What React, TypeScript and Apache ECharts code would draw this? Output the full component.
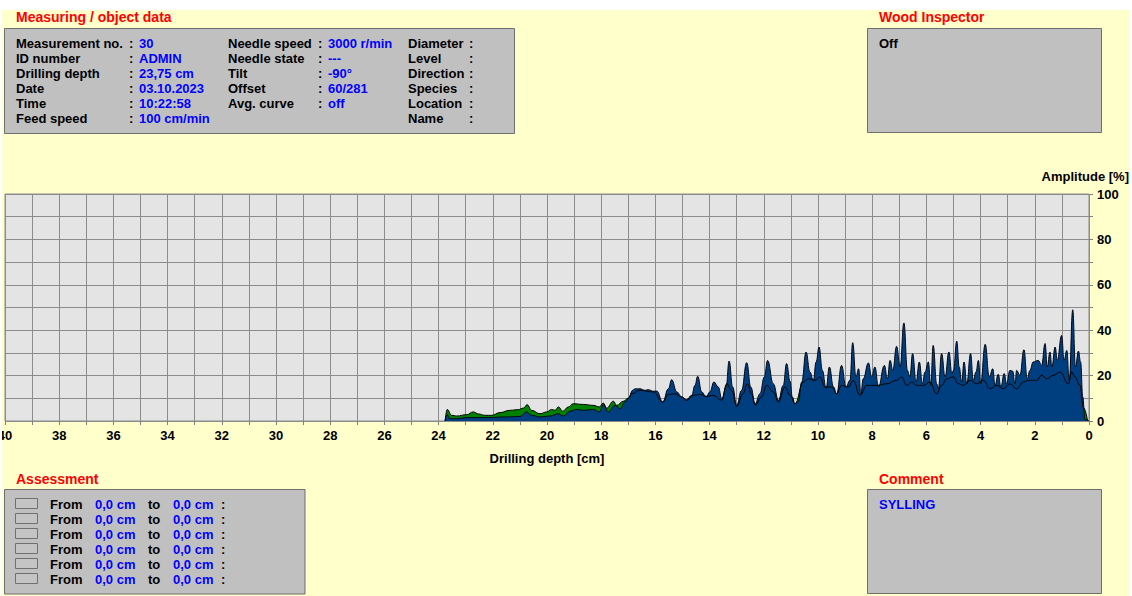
import React, { useEffect, useRef } from 'react';
import * as echarts from 'echarts';

// ---- Drilling resistance (blue) : depth [cm] / amplitude [%]
const blueDepth = [
  23.76, 23.73, 23.68, 23.58, 23.33, 22.96, 22.29, 21.49, 21.0, 20.75, 20.57, 20.26, 19.89, 19.58, 19.4, 19.15,
  18.9, 18.66, 18.29, 18.07, 17.92, 17.74, 17.49, 17.31, 17.12, 17.0, 16.84, 16.75, 16.57, 16.38, 16.26, 16.08,
  15.95, 15.73, 15.52, 15.4, 15.21, 15.03, 14.85, 14.66, 14.54, 14.44, 14.29, 14.13, 13.99, 13.84, 13.68, 13.55,
  13.39, 13.28, 13.15, 13.0, 12.82, 12.63, 12.48, 12.32, 12.14, 11.98, 11.86, 11.65, 11.46, 11.28, 11.16, 11.03,
  10.95, 10.85, 10.73, 10.6, 10.44, 10.3, 10.17, 10.07, 9.96, 9.84, 9.7, 9.58, 9.43, 9.31, 9.13, 8.97,
  8.82, 8.72, 8.6, 8.5, 8.42, 8.33, 8.14, 8.02, 7.9, 7.77, 7.55, 7.44, 7.34, 7.24, 7.1, 6.97,
  6.83, 6.7, 6.61, 6.51, 6.38, 6.26, 6.15, 6.05, 5.93, 5.84, 5.75, 5.62, 5.56, 5.44, 5.31, 5.17,
  5.06, 5.0, 4.88, 4.79, 4.7, 4.61, 4.51, 4.37, 4.27, 4.17, 4.08, 4.0, 3.83, 3.68, 3.55, 3.47,
  3.35, 3.25, 3.13, 3.04, 2.92, 2.82, 2.73, 2.67, 2.55, 2.4, 2.28, 2.18, 2.06, 1.87, 1.75, 1.62,
  1.54, 1.44, 1.37, 1.25, 1.17, 1.01, 0.92, 0.82, 0.73, 0.6, 0.5, 0.39, 0.31, 0.23, 0.15, 0.0,
];
const blueAmp = [
  0, 1.8, 2.8, 1.0, 1.0, 1.5, 1.5, 1.8, 2.0, 4.0, 2.5, 1.8, 2.2, 3.2, 2.2, 4.3,
  5.1, 4.7, 5.1, 4.0, 7.2, 4.0, 6.9, 5.4, 8.4, 9.8, 13.5, 14.2, 14.2, 13.5, 13.8, 13.1,
  13.2, 8.4, 14.2, 18.2, 12.8, 10.6, 9.4, 11.3, 15.7, 19.7, 12.8, 10.6, 12.8, 17.2, 15.0, 9.8,
  15.0, 26.4, 15.0, 6.9, 13.5, 25.7, 15.0, 7.6, 12.0, 19.4, 26.7, 16.4, 9.1, 15.7, 25.3, 17.5,
  10.6, 7.6, 8.4, 17.2, 30.4, 21.6, 17.9, 26.0, 32.6, 22.3, 14.4, 23.8, 15.0, 12.0, 24.5, 15.0,
  17.9, 34.5, 19.4, 23.0, 12.0, 18.6, 25.6, 19.4, 23.8, 15.0, 24.5, 18.6, 26.7, 22.3, 32.9, 23.8,
  43.2, 22.3, 19.4, 29.7, 17.2, 26.0, 16.4, 21.6, 26.0, 15.7, 33.3, 16.4, 14.2, 29.7, 19.4, 30.4,
  20.9, 22.3, 35.2, 23.8, 17.2, 26.0, 16.4, 29.7, 17.9, 21.6, 26.7, 16.4, 33.8, 19.4, 23.0, 15.7,
  20.6, 15.0, 20.9, 16.4, 22.3, 22.0, 16.4, 22.3, 20.1, 31.4, 18.6, 22.3, 26.0, 26.7, 24.5, 34.1,
  23.8, 30.4, 23.8, 32.6, 26.7, 37.7, 26.7, 31.1, 17.9, 49.0, 23.8, 30.8, 26.0, 10.6, 0.6, 0,
];

// ---- Feed (green) : depth [cm] / amplitude [%]
const greenDepth = [
  23.76, 23.68, 23.52, 23.33, 22.96, 22.72, 22.53, 22.29, 22.04, 21.73, 21.37, 21.06, 20.87, 20.73, 20.57, 20.26,
  20.01, 19.83, 19.7, 19.58, 19.42, 19.21, 19.03, 18.66, 18.29, 18.07, 17.92, 17.8, 17.55, 17.43, 17.18, 17.0,
  16.87, 16.57, 16.08, 15.73, 15.52, 15.28, 15.03, 14.85, 14.6, 14.35, 14.11, 13.86, 13.55, 13.37, 13.19, 13.0,
  12.76, 12.61, 12.45, 12.32, 12.08, 11.89, 11.65, 11.46, 11.22, 11.03, 10.85, 10.54, 10.36, 10.11, 9.93, 9.74,
  9.49, 9.31, 9.13, 8.88, 8.7, 8.45, 8.2, 7.83, 7.47, 7.1, 6.91, 6.73, 6.54, 6.36, 6.11, 5.87,
  5.62, 5.44, 5.25, 5.01, 4.82, 4.64, 4.39, 4.14, 3.9, 3.65, 3.41, 3.16, 2.92, 2.67, 2.42, 2.24,
  1.93, 1.75, 1.56, 1.32, 1.07, 0.76, 0.64, 0.52, 0.33, 0.21, 0.05,
];
const greenAmp = [
  0, 5.1, 2.5, 2.2, 2.8, 4.0, 3.1, 2.5, 2.5, 3.7, 4.7, 5.0, 5.7, 7.2, 4.7, 3.2,
  4.0, 5.1, 4.7, 6.2, 4.3, 6.2, 7.6, 7.3, 6.9, 6.2, 7.9, 5.7, 8.7, 6.9, 8.7, 10.1,
  12.0, 13.5, 12.8, 8.4, 11.7, 12.0, 10.6, 9.1, 11.3, 11.7, 10.9, 11.3, 9.1, 16.4, 13.5, 6.5,
  12.0, 16.4, 12.0, 6.9, 10.6, 15.7, 12.8, 8.4, 15.0, 11.3, 7.6, 17.2, 18.6, 17.9, 19.4, 15.0,
  15.0, 12.0, 15.7, 15.0, 17.9, 11.3, 15.7, 15.7, 16.4, 17.9, 19.4, 15.7, 17.2, 15.7, 15.7, 17.2,
  12.0, 15.7, 18.6, 19.4, 16.4, 15.7, 17.9, 16.4, 17.9, 14.2, 15.7, 14.2, 16.4, 14.2, 17.2, 17.9,
  17.9, 20.1, 18.6, 20.1, 21.6, 16.4, 21.6, 19.4, 15.7, 6.0, 0,
];

// ---- Axis settings / texts
const depthMin = 0;
const depthMax = 40;
const ampMin = 0;
const ampMax = 100;

const infoLabels1 = ['Measurement no.', 'ID number', 'Drilling depth', 'Date', 'Time', 'Feed speed'];
const infoValues1 = ['30', 'ADMIN', '23,75 cm', '03.10.2023', '10:22:58', '100 cm/min'];
const infoLabels2 = ['Needle speed', 'Needle state', 'Tilt', 'Offset', 'Avg. curve'];
const infoValues2 = ['3000 r/min', '---', '-90°', '60/281', 'off'];
const infoLabels3 = ['Diameter', 'Level', 'Direction', 'Species', 'Location', 'Name'];
const assessFrom = ['0,0 cm', '0,0 cm', '0,0 cm', '0,0 cm', '0,0 cm', '0,0 cm'];
const assessTo = ['0,0 cm', '0,0 cm', '0,0 cm', '0,0 cm', '0,0 cm', '0,0 cm'];

const FONT = '"Liberation Sans", Arial, Helvetica, sans-serif';
const RED = '#FF0000';
const BLUE = '#0000FF';
const BOXFILL = '#C0C0C0';
const BOXSTROKE = '#6E6E6E';
const SMOOTH = 0.45;

function txt(text: string, x: number, y: number, color = '#000', size = 13, align = 'left') {
  return {
    type: 'text',
    x,
    y,
    z: 60,
    silent: true,
    style: {
      text,
      fill: color,
      font: `bold ${size}px ${FONT}`,
      textAlign: align,
      textVerticalAlign: 'middle',
      align,
      verticalAlign: 'middle',
    },
  };
}

function box(x: number, y: number, w: number, h: number) {
  return {
    type: 'rect',
    z: 40,
    silent: true,
    shape: { x, y, width: w, height: h },
    style: { fill: BOXFILL, stroke: BOXSTROKE, lineWidth: 1 },
  };
}

function buildGraphics() {
  const g: any[] = [];
  // white page margins
  g.push({ type: 'rect', z: 100, silent: true, shape: { x: 0, y: 0, width: 1132, height: 10 }, style: { fill: '#FFFFFF' } });
  g.push({ type: 'rect', z: 100, silent: true, shape: { x: 0, y: 0, width: 2, height: 596 }, style: { fill: '#FFFFFF' } });
  g.push({ type: 'rect', z: 100, silent: true, shape: { x: 1130, y: 0, width: 2, height: 596 }, style: { fill: '#FFFFFF' } });

  // Measuring / object data
  g.push(txt('Measuring / object data', 16, 16.5, RED, 14));
  g.push(box(4.5, 28.5, 510, 105));
  infoLabels1.forEach((l, i) => {
    const y = 43.5 + i * 14.9;
    g.push(txt(l, 16, y));
    g.push(txt(':', 129, y));
    g.push(txt(infoValues1[i], 139, y, BLUE));
  });
  infoLabels2.forEach((l, i) => {
    const y = 43.5 + i * 14.9;
    g.push(txt(l, 228, y));
    g.push(txt(':', 318, y));
    g.push(txt(infoValues2[i], 328, y, BLUE));
  });
  infoLabels3.forEach((l, i) => {
    const y = 43.5 + i * 14.9;
    g.push(txt(l, 408, y));
    g.push(txt(':', 469, y));
  });

  // Wood Inspector
  g.push(txt('Wood Inspector', 879, 16.5, RED, 14));
  g.push(box(867.5, 28.5, 234, 104));
  g.push(txt('Off', 879, 43));

  // axis titles
  g.push(txt('Amplitude [%]', 1129, 176, '#000', 13, 'right'));
  g.push(txt('Drilling depth [cm]', 547, 458, '#000', 13, 'center'));

  // Assessment
  g.push(txt('Assessment', 16, 479, RED, 14));
  g.push(box(4.5, 489.5, 300.5, 104.5));
  assessFrom.forEach((v, i) => {
    const y = 504.3 + i * 14.95;
    g.push({
      type: 'rect', z: 50, silent: true,
      shape: { x: 15.5, y: Math.round(y) - 5.5, width: 22, height: 10 },
      style: { fill: '#C4C4C4', stroke: '#707070', lineWidth: 1 },
    });
    g.push(txt('From', 50, y));
    g.push(txt(v, 95, y, BLUE));
    g.push(txt('to', 148, y));
    g.push(txt(assessTo[i], 173, y, BLUE));
    g.push(txt(':', 221, y));
  });

  // Comment
  g.push(txt('Comment', 879, 478.5, RED, 14));
  g.push(box(867.5, 489.5, 234, 104));
  g.push(txt('SYLLING', 879, 504.3, BLUE));
  return g;
}

export default function App() {
  const ref = useRef<HTMLDivElement>(null);

  useEffect(() => {
    if (!ref.current) return;
    const chart = echarts.init(ref.current, undefined, { renderer: 'svg' });
    const blueData = blueDepth.map((d, i) => [d, blueAmp[i]]);
    const greenData = greenDepth.map((d, i) => [d, greenAmp[i]]);
    const labelStyle = { color: '#000', fontWeight: 'bold', fontSize: 13, fontFamily: FONT };
    const option: any = {
      animation: false,
      backgroundColor: '#FFFFCC',
      grid: {
        left: 5,
        right: 43,
        top: 194,
        bottom: 175,
        show: true,
        backgroundColor: '#E4E4E4',
        borderColor: '#8C8C8C',
        borderWidth: 1,
        containLabel: false,
        outerBoundsMode: 'none',
      },
      xAxis: {
        type: 'value',
        min: depthMin,
        max: depthMax,
        interval: 1,
        inverse: true,
        axisLine: { show: false },
        axisTick: { show: true, length: 4, lineStyle: { color: '#808080' } },
        axisLabel: {
          ...labelStyle,
          margin: 8,
          formatter: (v: number) => (Math.round(v) % 2 === 0 ? String(Math.round(v)) : ''),
        },
        splitLine: { show: true, lineStyle: { color: '#8C8C8C', width: 1 } },
      },
      yAxis: {
        type: 'value',
        position: 'right',
        min: ampMin,
        max: ampMax,
        interval: 10,
        axisLine: { show: false },
        axisTick: { show: true, length: 4, lineStyle: { color: '#808080' } },
        axisLabel: {
          ...labelStyle,
          margin: 8,
          formatter: (v: number) => (Math.round(v) % 20 === 0 ? String(Math.round(v)) : ''),
        },
        splitLine: { show: true, lineStyle: { color: '#8C8C8C', width: 1 } },
      },
      series: [
        {
          name: 'Feed area',
          type: 'line',
          data: greenData,
          symbol: 'none',
          smooth: SMOOTH,
          smoothMonotone: 'x',
          lineStyle: { width: 0, opacity: 0 },
          areaStyle: { color: '#008000', opacity: 1 },
          z: 2,
        },
        {
          name: 'Drill',
          type: 'line',
          data: blueData,
          symbol: 'none',
          smooth: SMOOTH,
          smoothMonotone: 'x',
          lineStyle: { color: '#000814', width: 1 },
          areaStyle: { color: '#003F7F', opacity: 1 },
          z: 3,
        },
        {
          name: 'Feed',
          type: 'line',
          data: greenData,
          symbol: 'none',
          smooth: SMOOTH,
          smoothMonotone: 'x',
          lineStyle: { color: '#000000', width: 1 },
          z: 4,
        },
      ],
      graphic: buildGraphics(),
    };
    chart.setOption(option);
    return () => chart.dispose();
  }, []);

  return (
    <div
      ref={ref}
      style={{ position: 'fixed', left: 0, top: 0, width: 1132, height: 596 }}
    />
  );
}
